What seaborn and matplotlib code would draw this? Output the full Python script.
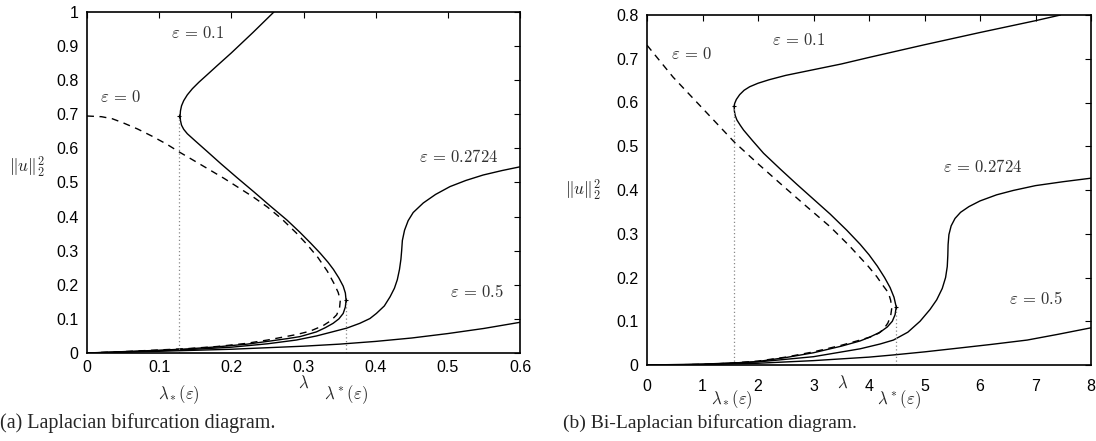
import matplotlib
matplotlib.use("Agg")
import matplotlib.pyplot as plt
import seaborn as sns

# ---- (a) Laplacian: values ----
lap_eps0_lam = [0, 0.02, 0.035, 0.05, 0.07, 0.09, 0.11, 0.129, 0.15, 0.17, 0.19, 0.21, 0.23, 0.25,
                0.27, 0.29, 0.305, 0.32, 0.333, 0.342, 0.348, 0.351, 0.350, 0.346, 0.338, 0.327,
                0.309, 0.29, 0.27, 0.25, 0.22, 0.18, 0.14, 0.10, 0.05, 0]
lap_eps0_u = [0.695, 0.693, 0.687, 0.675, 0.657, 0.636, 0.613, 0.588, 0.562, 0.537, 0.512, 0.485,
              0.458, 0.428, 0.393, 0.352, 0.318, 0.280, 0.240, 0.205, 0.178, 0.155, 0.133, 0.112,
              0.095, 0.080, 0.064, 0.054, 0.046, 0.038, 0.028, 0.019, 0.013, 0.009, 0.004, 0]

lap_eps01_lam = [0.259, 0.230, 0.200, 0.180, 0.166, 0.155, 0.146, 0.139, 0.134, 0.131, 0.1295, 0.129,
                 0.1295, 0.131, 0.134, 0.139, 0.150, 0.166, 0.185, 0.208, 0.231, 0.254, 0.277, 0.295,
                 0.310, 0.323, 0.334, 0.3415, 0.349, 0.355, 0.358, 0.359, 0.358, 0.355, 0.349, 0.341,
                 0.330, 0.318, 0.305, 0.295, 0.277, 0.25, 0.222, 0.18, 0.139, 0.10, 0.05, 0]
lap_eps01_u = [1.0, 0.940, 0.880, 0.842, 0.815, 0.794, 0.775, 0.757, 0.740, 0.725, 0.710, 0.695,
               0.682, 0.668, 0.656, 0.643, 0.622, 0.592, 0.556, 0.514, 0.473, 0.431, 0.390, 0.354,
               0.322, 0.293, 0.266, 0.245, 0.220, 0.196, 0.176, 0.155, 0.135, 0.116, 0.100, 0.087,
               0.074, 0.062, 0.054, 0.048, 0.042, 0.034, 0.026, 0.018, 0.012, 0.008, 0.004, 0]

lap_eps2724_lam = [0, 0.05, 0.10, 0.15, 0.20, 0.25, 0.29, 0.318, 0.34, 0.36, 0.378, 0.392, 0.401, 0.412,
                   0.420, 0.426, 0.430, 0.433, 0.435, 0.436, 0.437, 0.440, 0.445, 0.452, 0.466, 0.483,
                   0.503, 0.525, 0.549, 0.575, 0.600]
lap_eps2724_u = [0, 0.003, 0.007, 0.011, 0.017, 0.027, 0.038, 0.050, 0.062, 0.073, 0.087, 0.101,
                 0.116, 0.138, 0.165, 0.190, 0.215, 0.245, 0.275, 0.300, 0.330, 0.360, 0.388, 0.412,
                 0.440, 0.465, 0.488, 0.506, 0.522, 0.535, 0.546]

lap_eps05_lam = [0, 0.1, 0.2, 0.3, 0.35, 0.4, 0.45, 0.5, 0.55, 0.6]
lap_eps05_u = [0, 0.005, 0.011, 0.02, 0.026, 0.034, 0.044, 0.057, 0.072, 0.09]

lap_folds_lam = [0.128, 0.359]
lap_folds_u = [0.695, 0.155]

# ---- (b) Bi-Laplacian ----
bil_eps0_lam = [0, 0.47, 1.08, 1.57, 2.0, 2.4, 2.85, 3.3, 3.65, 3.99, 4.14, 4.25, 4.35, 4.39, 4.41,
                4.39, 4.34, 4.27, 4.18, 4.05, 3.84, 3.5, 3.0, 2.5, 2.0, 1.5, 1.0, 0.5, 0]
bil_eps0_u = [0.731, 0.658, 0.576, 0.510, 0.460, 0.415, 0.365, 0.316, 0.272, 0.225, 0.202, 0.182, 0.165,
              0.148, 0.130, 0.112, 0.096, 0.083, 0.073, 0.065, 0.057, 0.045, 0.030, 0.018, 0.009,
              0.004, 0.0015, 0.0003, 0]

bil_eps01_lam = [7.45, 7.0, 6.0, 5.0, 4.0, 3.5, 3.0, 2.5, 2.2, 2.0, 1.85, 1.75, 1.67, 1.61, 1.58, 1.57,
                 1.575, 1.59, 1.62, 1.68, 1.74, 1.9, 2.1, 2.4, 2.7, 3.0, 3.3, 3.6, 3.84, 4.0, 4.15,
                 4.28, 4.38, 4.45, 4.49, 4.47, 4.42, 4.33, 4.2, 4.0, 3.84, 3.5, 3.0, 2.5, 2.0, 1.5,
                 1.0, 0.5, 0]
bil_eps01_u = [0.8, 0.787, 0.76, 0.732, 0.703, 0.688, 0.675, 0.662, 0.652, 0.644, 0.636, 0.628, 0.618,
               0.607, 0.598, 0.592, 0.580, 0.570, 0.560, 0.548, 0.537, 0.513, 0.484, 0.448, 0.413,
               0.379, 0.345, 0.308, 0.276, 0.252, 0.226, 0.200, 0.177, 0.155, 0.133, 0.115, 0.100,
               0.087, 0.075, 0.063, 0.055, 0.043, 0.028, 0.017, 0.008, 0.004, 0.0015, 0.0003, 0]

bil_eps2724_lam = [0, 1, 2, 3, 3.84, 4.2, 4.44, 4.7, 4.92, 5.1, 5.22, 5.32, 5.38, 5.41, 5.42, 5.425,
                   5.44, 5.48, 5.55, 5.65, 5.8, 6.0, 6.3, 6.6, 7.0, 7.5, 8.0]
bil_eps2724_u = [0, 0.002, 0.007, 0.019, 0.037, 0.048, 0.057, 0.075, 0.100, 0.127, 0.149, 0.175, 0.200,
                 0.225, 0.250, 0.275, 0.298, 0.318, 0.335, 0.349, 0.362, 0.375, 0.389, 0.399, 0.410,
                 0.419, 0.427]

bil_eps05_lam = [0, 1, 2, 3, 4, 4.44, 5, 5.64, 6.2, 6.85, 7.4, 8]
bil_eps05_u = [0, 0.001, 0.004, 0.01, 0.018, 0.023, 0.03, 0.039, 0.047, 0.057, 0.07, 0.085]

bil_folds_lam = [1.573, 4.49]
bil_folds_u = [0.592, 0.133]

sns.set_style("white")
plt.rcParams["font.family"] = ["Liberation Sans", "DejaVu Sans"]
plt.rcParams["mathtext.fontset"] = "cm"

fig = plt.figure(figsize=(10.96, 4.41), dpi=100)
ax1 = fig.add_axes([87 / 1096, 88 / 441, 433 / 1096, 341 / 441])
ax2 = fig.add_axes([647 / 1096, 76 / 441, 444 / 1096, 350 / 441])

lw = 1.0
lab_col = "#333333"


def draw(ax, eps0, curves, folds):
    sns.lineplot(x=eps0[0], y=eps0[1], sort=False, estimator=None, ax=ax,
                 color="black", lw=lw, linestyle=(0, (5, 4)))
    for lam, u in curves:
        sns.lineplot(x=lam, y=u, sort=False, estimator=None, ax=ax, color="black", lw=lw)
    ax.vlines(folds[0], 0, folds[1], colors="#888888", linestyles=(0, (1, 2)), lw=0.9)
    ax.scatter(folds[0], folds[1], marker="+", s=10, color="black", lw=0.8, zorder=5)


draw(ax1, (lap_eps0_lam, lap_eps0_u),
     [(lap_eps01_lam, lap_eps01_u), (lap_eps2724_lam, lap_eps2724_u), (lap_eps05_lam, lap_eps05_u)],
     (lap_folds_lam, lap_folds_u))
draw(ax2, (bil_eps0_lam, bil_eps0_u),
     [(bil_eps01_lam, bil_eps01_u), (bil_eps2724_lam, bil_eps2724_u), (bil_eps05_lam, bil_eps05_u)],
     (bil_folds_lam, bil_folds_u))

ax1.set_xlim(0, 0.6)
ax1.set_ylim(0, 1)
ax1.set_xticks([0, 0.1, 0.2, 0.3, 0.4, 0.5, 0.6])
ax1.set_xticklabels(["0", "0.1", "0.2", "0.3", "0.4", "0.5", "0.6"])
ax1.set_yticks([i / 10 for i in range(11)])
ax1.set_yticklabels(["0"] + [f"0.{i}" for i in range(1, 10)] + ["1"])

ax2.set_xlim(0, 8)
ax2.set_ylim(0, 0.8)
ax2.set_xticks(range(9))
ax2.set_xticklabels([str(i) for i in range(9)])
ax2.set_yticks([i / 10 for i in range(9)])
ax2.set_yticklabels(["0"] + [f"0.{i}" for i in range(1, 9)])

for ax, xpad in ((ax1, 5), (ax2, 10)):
    ax.set_xlabel("")
    ax.set_ylabel("")
    ax.tick_params(direction="in", top=True, right=True, length=4, width=0.8,
                   labelsize=11.5, colors="black")
    ax.tick_params(axis="x", pad=xpad)
    ax.tick_params(axis="y", pad=6)
    for s in ax.spines.values():
        s.set_linewidth(1.2)
        s.set_color("black")

tfs = 12
# labels, panel (a)
ax1.text(0.154, 0.938, r"$\varepsilon\,=\,0.1$", fontsize=tfs, color=lab_col, ha="center", va="center")
ax1.text(0.047, 0.75, r"$\varepsilon\,=\,0$", fontsize=tfs, color=lab_col, ha="center", va="center")
ax1.text(0.515, 0.575, r"$\varepsilon\,=\,0.2724$", fontsize=tfs, color=lab_col, ha="center", va="center")
ax1.text(0.54, 0.179, r"$\varepsilon\,=\,0.5$", fontsize=tfs, color=lab_col, ha="center", va="center")
ax1.text(-0.139, 0.545, r"$\|u\|_2^2$", fontsize=12.5, transform=ax1.transAxes, ha="center", va="center")
xt1 = ax1.get_xaxis_transform()
ax1.text(0.3, -0.088, r"$\lambda$", fontsize=tfs, transform=xt1, ha="center", va="center")
ax1.text(lap_folds_lam[0], -0.123, r"$\lambda_*(\varepsilon)$", fontsize=tfs, transform=xt1,
         ha="center", va="center")
ax1.text(lap_folds_lam[1], -0.123, r"$\lambda^*(\varepsilon)$", fontsize=tfs, transform=xt1,
         ha="center", va="center")

# labels, panel (b)
ax2.text(2.74, 0.743, r"$\varepsilon\,=\,0.1$", fontsize=tfs, color=lab_col, ha="center", va="center")
ax2.text(0.81, 0.711, r"$\varepsilon\,=\,0$", fontsize=tfs, color=lab_col, ha="center", va="center")
ax2.text(6.05, 0.453, r"$\varepsilon\,=\,0.2724$", fontsize=tfs, color=lab_col, ha="center", va="center")
ax2.text(7.0, 0.153, r"$\varepsilon\,=\,0.5$", fontsize=tfs, color=lab_col, ha="center", va="center")
ax2.text(-0.144, 0.5, r"$\|u\|_2^2$", fontsize=12.5, transform=ax2.transAxes, ha="center", va="center")
xt2 = ax2.get_xaxis_transform()
ax2.text(3.53, -0.051, r"$\lambda$", fontsize=tfs, transform=xt2, ha="center", va="center")
ax2.text(bil_folds_lam[0] - 0.05, -0.098, r"$\lambda_*(\varepsilon)$", fontsize=tfs, transform=xt2,
         ha="center", va="center")
ax2.text(bil_folds_lam[1] + 0.05, -0.098, r"$\lambda^*(\varepsilon)$", fontsize=tfs, transform=xt2,
         ha="center", va="center")

fig.text(0 / 1096, 1 - 423 / 441, "(a) Laplacian bifurcation diagram.", fontsize=14.5,
         family=["Liberation Serif", "DejaVu Serif"], ha="left", va="center")
fig.text(563 / 1096, 1 - 423 / 441, "(b) Bi-Laplacian bifurcation diagram.", fontsize=14,
         family=["Liberation Serif", "DejaVu Serif"], ha="left", va="center")

fig.savefig("out.png", dpi=100)
